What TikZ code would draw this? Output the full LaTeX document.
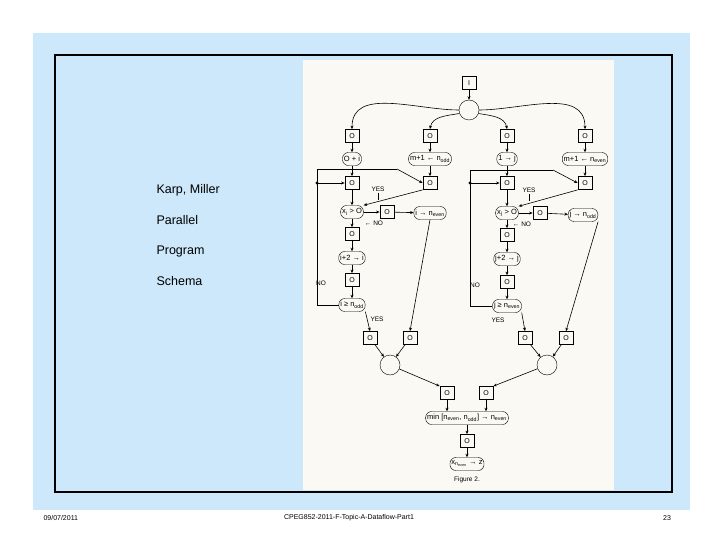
\documentclass[tikz,border=0pt]{standalone}
\usepackage{fontspec}
\setmainfont{Liberation Sans}
\usetikzlibrary{arrows.meta}
\definecolor{slideblue}{HTML}{CCE8FA}
\definecolor{paper}{HTML}{FBF9F4}
\newcommand{\sbs}[1]{\textsubscript{#1}}
\begin{document}
\begin{tikzpicture}[x=1pt,y=-1pt,
  place/.style={draw,thick,minimum width=14pt,minimum height=13pt,inner sep=0pt,font=\fontsize{7}{8}\selectfont},
  act/.style={draw,rounded corners=6pt,inner sep=1.5pt,minimum height=13pt,font=\fontsize{7.5}{8}\selectfont},
  junc/.style={draw,circle,minimum size=20pt,inner sep=0pt},
  lab/.style={font=\fontsize{6.5}{7}\selectfont,inner sep=1pt},
  arr/.style={-{Stealth[length=3.5pt,width=3pt]},semithick},
  ln/.style={semithick},
  big/.style={font=\fontsize{12.5}{14}\selectfont,anchor=west},
  foot/.style={font=\fontsize{7}{8}\selectfont}]
\useasboundingbox (0,0) rectangle (720,540);
\fill[white] (0,0) rectangle (720,540);
\fill[slideblue] (33,33) rectangle (690,510);
\draw[line width=2.5pt,fill=slideblue] (55,55) rectangle (672,492);
\fill[paper] (303,60) rectangle (614,490);
\node[big] (t1) at (153,190) {Karp, Miller};
\node[big] (t2) at (153,220) {Parallel};
\node[big] (t3) at (153,251) {Program};
\node[big] (t4) at (153,281) {Schema};
\node[foot,anchor=west] (f1) at (40,518) {09/07/2011};
\node[foot] (f2) at (349,518) {CPEG852-2011-F-Topic-A-Dataflow-Part1};
\node[foot] (f3) at (667,518) {23};
% figure
\node[place] (I) at (469,83) {I};
\node[junc] (c0) at (469,110) {};
\node[place] (a1) at (352,136) {O};
\node[place] (a2) at (430,136) {O};
\node[place] (a3) at (507,136) {O};
\node[place] (a4) at (585,136) {O};
\node[act] (b1) at (352,159) {O + i};
\node[act] (b2) at (430,159) {m+1 ← n\sbs{odd}};
\node[act] (b3) at (507,159) {1 → j};
\node[act] (b4) at (585,159) {m+1 ← n\sbs{even}};
\node[place] (p1) at (352,183) {O};
\node[place] (p2) at (430,183) {O};
\node[place] (p3) at (507,183) {O};
\node[place] (p4) at (585,183) {O};
\node[act] (x1) at (352,212) {x\sbs{i} > O};
\node[place] (q1) at (387,212) {O};
\node[act] (e1) at (430,213) {i → n\sbs{even}};
\node[act] (x2) at (507,213) {x\sbs{j} > O};
\node[place] (q2) at (540,213) {O};
\node[act] (e2) at (583,215) {j → n\sbs{odd}};
\node[place] (r1) at (352,234) {O};
\node[place] (r2) at (507,235) {O};
\node[act] (s1) at (352,258) {i+2 → i};
\node[act] (s2) at (507,259) {j+2 → j};
\node[place] (u1) at (352,280) {O};
\node[place] (u2) at (507,282) {O};
\node[act] (g1) at (352,305) {i ≥ n\sbs{odd}};
\node[act] (g2) at (507,306) {j ≥ n\sbs{even}};
\node[place] (v1) at (370,338) {O};
\node[place] (v2) at (410,338) {O};
\node[place] (v3) at (525,338) {O};
\node[place] (v4) at (566,338) {O};
\node[junc] (c1) at (390,365) {};
\node[junc] (c2) at (547,365) {};
\node[place] (w1) at (447,393) {O};
\node[place] (w2) at (486,393) {O};
\node[act] (m) at (467,418) {min [n\sbs{even}, n\sbs{odd}] → n\sbs{even}};
\node[place] (w3) at (467,441) {O};
\node[act] (z) at (467,464) {x\sbs{n\sbs{even}} → z};
\node[lab] (fig) at (467,480) {Figure 2.};
\node[lab] (y1) at (378,189) {YES};
\node[lab] (y2) at (529,190) {YES};
\node[lab] (n1) at (374,223) {← NO};
\node[lab] (n2) at (522,224) {← NO};
\node[lab] (n3) at (321,283) {NO};
\node[lab] (n4) at (475,285) {NO};
\node[lab] (y3) at (377,319) {YES};
\node[lab] (y4) at (498,320) {YES};
\coordinate (d1) at (317,183);
\coordinate (d2) at (470,183);
\fill (d1) circle (1.6pt);
\fill (d2) circle (1.6pt);
% edges
\draw[arr] (I) -- (c0);
\draw[arr] (c0.west) to[out=180,in=90] (a1.north);
\draw[arr] (c0.200) to[out=190,in=80] (a2.north);
\draw[arr] (c0.340) to[out=-10,in=100] (a3.north);
\draw[arr] (c0.east) to[out=0,in=90] (a4.north);
\foreach \a/\b in {a1/b1,a2/b2,a3/b3,a4/b4,b1/p1,b2/p2,b3/p3,b4/p4,p1/x1,p3/x2,x1/r1,x2/r2,r1/s1,r2/s2,s1/u1,s2/u2,u1/g1,u2/g2,x1/q1,q1/e1,x2/q2,q2/e2}
  \draw[arr] (\a) -- (\b);
\draw[arr] (p2.south west) -- (x1.north east);
\draw[arr] (p4.south west) -- (x2.north east);
\draw[ln] (y1.south) -- ++(0,7);
\draw[ln] (y2.south) -- ++(0,7);
\draw[ln] (g1.west) -| (d1);
\draw[ln] (d1) -- (317,169) -- (397,169);
\draw[arr] (397,169) -- (p2.west);
\draw[arr] (d1) -- (p1.west);
\draw[ln] (g2.west) -| (d2);
\draw[ln] (d2) -- (470,170) -- (553,170);
\draw[arr] (553,170) -- (p4.west);
\draw[arr] (d2) -- (p3.west);
\draw[arr] (g1.south east) -- (v1.north);
\draw[arr] (g2.south east) -- (v3.north);
\draw[arr] (e1.south) -- (v2.north);
\draw[arr] (e2.south east) -- (v4.north);
\draw[arr] (v1) -- (c1);
\draw[arr] (v2) -- (c1);
\draw[arr] (v3) -- (c2);
\draw[arr] (v4) -- (c2);
\draw[arr] (c1) -- (w1.north west);
\draw[arr] (c2) -- (w2.north east);
\draw[arr] (w1) -- (w1|-m.north);
\draw[arr] (w2) -- (w2|-m.north);
\draw[arr] (m) -- (w3);
\draw[arr] (w3) -- (z);
\end{tikzpicture}
\end{document}
